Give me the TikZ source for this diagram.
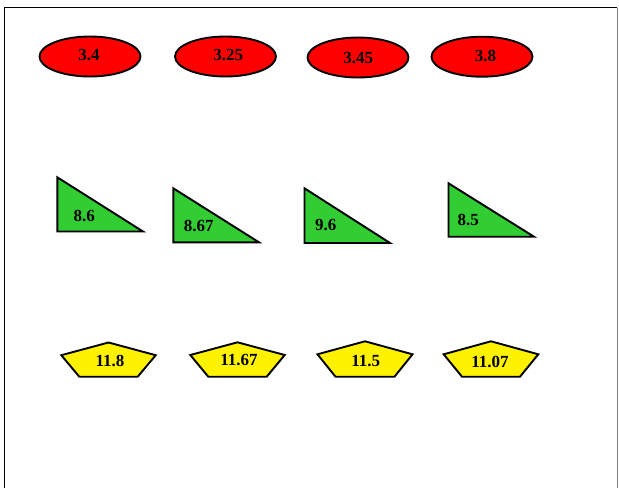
\documentclass[tikz,border=0pt]{standalone}
\usepackage{fontspec}
\setmainfont{Liberation Serif}
\usetikzlibrary{shapes.geometric}

\begin{document}
\begin{tikzpicture}[x=1pt,y=-1pt,line width=1.9pt,
oval/.style={ellipse,draw,fill=red,minimum width=101pt,minimum height=40pt,inner sep=0pt},
wedge/.style={draw,fill=limegreen,line join=miter},
penta/.style={draw,fill=yellow,line join=miter},
val/.style={font=\fontsize{17}{17}\selectfont\bfseries,inner sep=0pt}]
\definecolor{limegreen}{RGB}{50,205,50}

\useasboundingbox (0,0) rectangle (619,488);
\draw[line width=1pt] (4.5,488) -- (4.5,7.5) -- (617,7.5);
\draw[line width=1pt,gray] (617,7.5) -- (617,488);

% top row
\node[oval] (e1) at (90,56.5) {};
\node[oval] (e2) at (225.5,56.5) {};
\node[oval] (e3) at (358,57.5) {};
\node[oval] (e4) at (482,56.7) {};
\node[val] (v1) at (89,55) {3.4};
\node[val] (v2) at (228.3,55) {3.25};
\node[val] (v3) at (358.3,57.7) {3.45};
\node[val] (v4) at (485.5,55.7) {3.8};

% middle row
\filldraw[wedge] (57.3,177.3) -- (57.3,231.5) -- (143,231.5) -- cycle;
\filldraw[wedge] (173.3,188.3) -- (173.3,242.3) -- (259,242.3) -- cycle;
\filldraw[wedge] (304.5,188.3) -- (304.5,243) -- (390,243) -- cycle;
\filldraw[wedge] (448.5,183.3) -- (448.5,236.7) -- (534,236.7) -- cycle;
\node[val] (t1) at (84.3,216) {8.6};
\node[val] (t2) at (198.7,226) {8.67};
\node[val] (t3) at (325.7,225) {9.6};
\node[val] (t4) at (468.3,220) {8.5};

% bottom row
\filldraw[penta] (108.5,342.5) -- ++(47.2,12.7) -- ++(-18,21.5) -- ++(-58.4,0) -- ++(-18,-21.5) -- cycle;
\filldraw[penta] (237.5,342.3) -- ++(47.2,12.7) -- ++(-18,21.7) -- ++(-58.4,0) -- ++(-18,-21.7) -- cycle;
\filldraw[penta] (365,341.3) -- ++(47.5,13) -- ++(-18,22.4) -- ++(-59,0) -- ++(-18,-22.4) -- cycle;
\filldraw[penta] (491,341.3) -- ++(47.3,13) -- ++(-18.3,22.4) -- ++(-58,0) -- ++(-18.3,-22.4) -- cycle;
\node[val] (p1) at (110,361) {11.8};
\node[val] (p2) at (239,360) {11.67};
\node[val] (p3) at (365.7,361.5) {11.5};
\node[val] (p4) at (490,361.5) {11.07};

\end{tikzpicture}
\end{document}
